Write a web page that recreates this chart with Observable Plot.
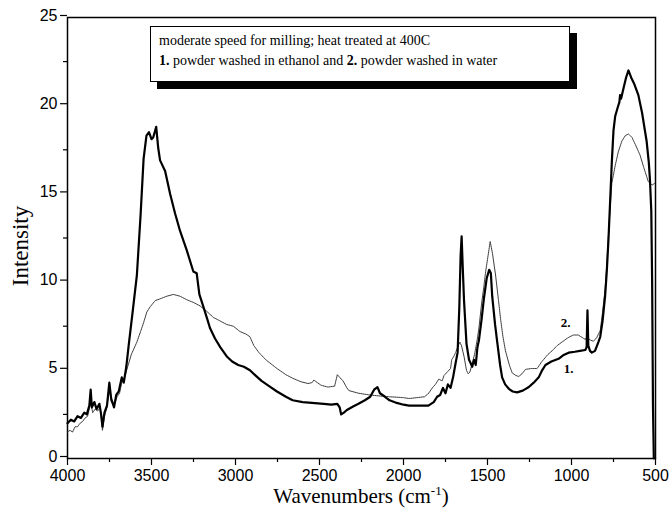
<!DOCTYPE html>
<html>
<head>
<meta charset="utf-8">
<script src="https://cdn.jsdelivr.net/npm/d3@7"></script>
<script src="https://cdn.jsdelivr.net/npm/@observablehq/plot@0.6"></script>
<style>
  body { margin: 0; background: #fff; }
  #wrap { position: relative; width: 670px; height: 512px; }
  #legend {
    position: absolute; left: 150px; top: 26px; width: 402px; height: 46px;
    padding: 4px 8px; border: 1.2px solid #000; background: #fff;
    box-shadow: 7px 7px 0 #000;
    font-family: "Liberation Serif", "Times New Roman", serif; font-size: 14px; line-height: 20px; color: #000;
  }
  #xtitle {
    position: absolute; left: 0; width: 722px; top: 483px; text-align: center;
    font-family: "Liberation Serif", "Times New Roman", serif; font-size: 21px; color: #000;
  }
  #xtitle sup { font-size: 13px; }
</style>
</head>
<body>
<div id="wrap"></div>
<script>
// Series 1: powder washed in ethanol (thick line)
const wn1 = [4000,3980,3960,3940,3920,3900,3885,3870,3862,3855,3840,3827,3810,3800,3792,3780,3765,3751,3740,3723,3710,3695,3677,3665,3650,3636,3610,3587,3565,3547,3530,3515,3500,3490,3472,3460,3449,3419,3389,3360,3330,3290,3251,3231,3215,3191,3168,3152,3122,3090,3053,3020,2984,2950,2914,2880,2845,2800,2753,2700,2660,2600,2545,2475,2429,2394,2380,2371,2355,2337,2300,2268,2230,2198,2175,2155,2140,2110,2083,2040,2000,1967,1900,1852,1820,1800,1782,1765,1750,1736,1720,1705,1690,1678,1668,1660,1654,1648,1640,1625,1610,1600,1591,1580,1570,1560,1551,1535,1521,1505,1490,1480,1472,1455,1442,1425,1413,1395,1373,1350,1324,1290,1254,1225,1195,1175,1155,1120,1077,1050,1017,980,950,918,910,905,900,890,879,860,840,829,815,800,790,780,770,760,750,740,725,715,711,705,690,675,661,645,625,602,580,553,540,533,525,520,515,510];
const int1 = [2.0,2.2,2.1,2.4,2.3,2.6,2.5,3.0,3.9,2.9,3.2,2.8,3.1,2.5,1.8,2.6,3.0,4.3,3.4,2.9,3.6,3.8,4.6,4.3,5.2,6.4,8.5,10.4,13.8,17.0,18.3,18.5,18.1,18.2,18.8,17.6,16.9,16.3,15.0,13.9,12.9,11.8,10.6,10.5,9.3,8.6,7.9,7.4,6.8,6.3,5.8,5.5,5.3,5.2,5.0,4.7,4.4,4.1,3.8,3.5,3.3,3.2,3.15,3.1,3.05,3.1,2.9,2.5,2.6,2.75,2.95,3.1,3.3,3.5,3.9,4.05,3.7,3.5,3.3,3.15,3.05,3.0,3.0,3.0,3.2,3.5,3.6,4.0,3.7,4.2,4.0,4.6,5.4,6.0,8.5,11.5,12.6,11.0,9.0,6.5,5.6,5.4,5.2,5.6,5.3,6.3,6.7,7.9,9.1,10.2,10.7,10.5,9.2,7.6,6.6,5.3,4.6,4.2,3.95,3.8,3.75,3.85,4.05,4.3,4.6,5.0,5.3,5.5,5.65,5.85,6.0,6.05,6.1,6.15,6.3,8.4,6.4,6.1,6.0,6.1,6.6,6.9,7.8,9.2,10.6,12.4,14.6,16.8,18.6,19.4,19.9,20.2,20.6,20.4,21.0,21.6,22.0,21.6,21.2,20.6,19.6,18.0,16.8,15.8,14.0,10.0,3.0,0];

// Series 2: powder washed in water (thin line)
const wn2 = [4000,3985,3970,3955,3940,3925,3910,3895,3880,3862,3850,3835,3820,3805,3792,3780,3765,3751,3740,3723,3705,3690,3677,3660,3642,3620,3587,3565,3547,3528,3508,3478,3449,3409,3370,3330,3290,3251,3211,3172,3132,3092,3053,3013,2974,2937,2914,2891,2860,2820,2780,2753,2700,2660,2610,2568,2545,2533,2520,2490,2450,2410,2394,2380,2360,2337,2325,2268,2200,2150,2083,2000,1967,1920,1875,1850,1829,1810,1790,1770,1759,1740,1720,1713,1700,1690,1678,1665,1655,1640,1625,1615,1605,1590,1575,1560,1551,1535,1521,1511,1495,1484,1470,1452,1435,1422,1408,1393,1370,1353,1330,1314,1295,1274,1240,1205,1176,1140,1116,1085,1057,1020,990,960,935,918,908,905,900,885,869,850,829,815,800,790,775,760,740,721,700,680,661,640,620,592,570,543,520,505];
const int2 = [1.5,1.6,1.5,1.8,1.8,2.0,2.1,2.3,2.4,3.2,2.6,2.8,2.7,2.9,1.6,2.4,2.9,4.0,3.2,3.0,3.5,3.7,4.3,4.6,5.2,5.9,6.6,7.2,7.7,8.3,8.6,8.95,9.05,9.2,9.3,9.2,9.0,8.85,8.65,8.35,8.0,7.8,7.6,7.5,7.2,7.05,6.9,6.4,6.0,5.6,5.3,5.1,4.75,4.55,4.35,4.25,4.3,4.45,4.35,4.15,4.05,4.1,4.75,4.6,4.4,4.0,3.85,3.7,3.6,3.55,3.5,3.45,3.4,3.45,3.5,3.7,4.0,4.2,4.5,4.4,4.7,4.9,5.1,5.6,5.8,6.0,6.3,6.6,6.4,5.8,5.0,4.8,4.9,5.4,6.0,6.8,7.4,8.8,9.8,10.6,11.6,12.3,11.6,10.4,9.0,7.9,6.9,6.1,5.3,4.85,4.7,4.65,4.8,5.05,5.1,5.1,5.5,5.9,6.1,6.4,6.6,6.85,7.0,7.0,6.85,6.75,6.9,8.0,6.8,6.7,6.65,6.85,7.25,8.3,9.6,11.0,13.5,15.6,16.6,17.4,18.0,18.3,18.4,18.2,17.8,17.2,16.5,15.7,15.5,15.6];

// Axis ticks
const xTicks = [4000,3500,3000,2500,2000,1500,1000,500];
const xMinor = [3750,3250,2750,2250,1750,1250,750];
const yTicks = [0,5,10,15,20,25];
const yMinor = [2.5,7.5,12.5,17.5,22.5];

// Curve labels
const curveLabels = ["2.", "1."];
const labelWn = [1035, 1017];
const labelInt = [7.7, 5.1];

const s1 = wn1.map((w, i) => ({wn: w, v: int1[i]}));
const s2 = wn2.map((w, i) => ({wn: w, v: int2[i]}));
const labs = curveLabels.map((t, i) => ({t, wn: labelWn[i], v: labelInt[i]}));

const chart = Plot.plot({
  width: 670,
  height: 512,
  marginLeft: 67,
  marginRight: 15,
  marginTop: 17,
  marginBottom: 54,
  style: {fontFamily: "'Liberation Sans', Arial, sans-serif", fontSize: "16px", color: "#000", background: "#fff"},
  x: {domain: [4000, 500]},
  y: {domain: [0, 25]},
  marks: [
    Plot.frame({stroke: "#000", strokeWidth: 1.5}),
    Plot.axisX({ticks: xMinor, tickSize: 4, tickFormat: () => "", strokeWidth: 1.2, label: null}),
    Plot.axisX({ticks: xTicks, tickSize: 7, tickPadding: 4, tickFormat: d => String(d), fontSize: 16, strokeWidth: 1.2, label: null}),
    Plot.axisY({ticks: yMinor, tickSize: 4, tickFormat: () => "", strokeWidth: 1.2, label: null}),
    Plot.axisY({ticks: yTicks, tickSize: 7, tickPadding: 3, tickFormat: d => String(d), fontSize: 16, strokeWidth: 1.2, dy: -2,
      label: "Intensity", labelAnchor: "center", labelArrow: "none", labelOffset: 56}),
    Plot.line(s2, {x: "wn", y: "v", stroke: "#3a3a3a", strokeWidth: 1, strokeDasharray: "1.2,0.8"}),
    Plot.line(s1, {x: "wn", y: "v", stroke: "#000", strokeWidth: 2.2}),
    Plot.text(labs, {x: "wn", y: "v", text: "t", fontWeight: "bold", fontSize: 13, fontFamily: "'Liberation Serif', serif", fill: "#000"})
  ]
});

// style y-axis label as serif, slightly lower as in the reference
chart.querySelectorAll("g[aria-label='y-axis label'] text").forEach(el => {
  el.setAttribute("font-family", "'Liberation Serif', 'Times New Roman', serif");
  el.setAttribute("font-size", "23");
  const tr = el.getAttribute("transform") || "";
  const m = tr.match(/translate\(([-\d.]+),([-\d.]+)\)(.*)/);
  if (m) el.setAttribute("transform", `translate(${m[1]},${+m[2] + 8})${m[3]}`);
});

const wrap = document.getElementById("wrap");
wrap.appendChild(chart);

const legend = document.createElement("div");
legend.id = "legend";
legend.innerHTML = "moderate speed for milling; heat treated at 400C<br><b>1.</b> powder washed in ethanol and <b>2.</b> powder washed in water";
wrap.appendChild(legend);

const xt = document.createElement("div");
xt.id = "xtitle";
xt.innerHTML = "Wavenumbers (cm<sup>-1</sup>)";
wrap.appendChild(xt);
</script>
</body>
</html>
